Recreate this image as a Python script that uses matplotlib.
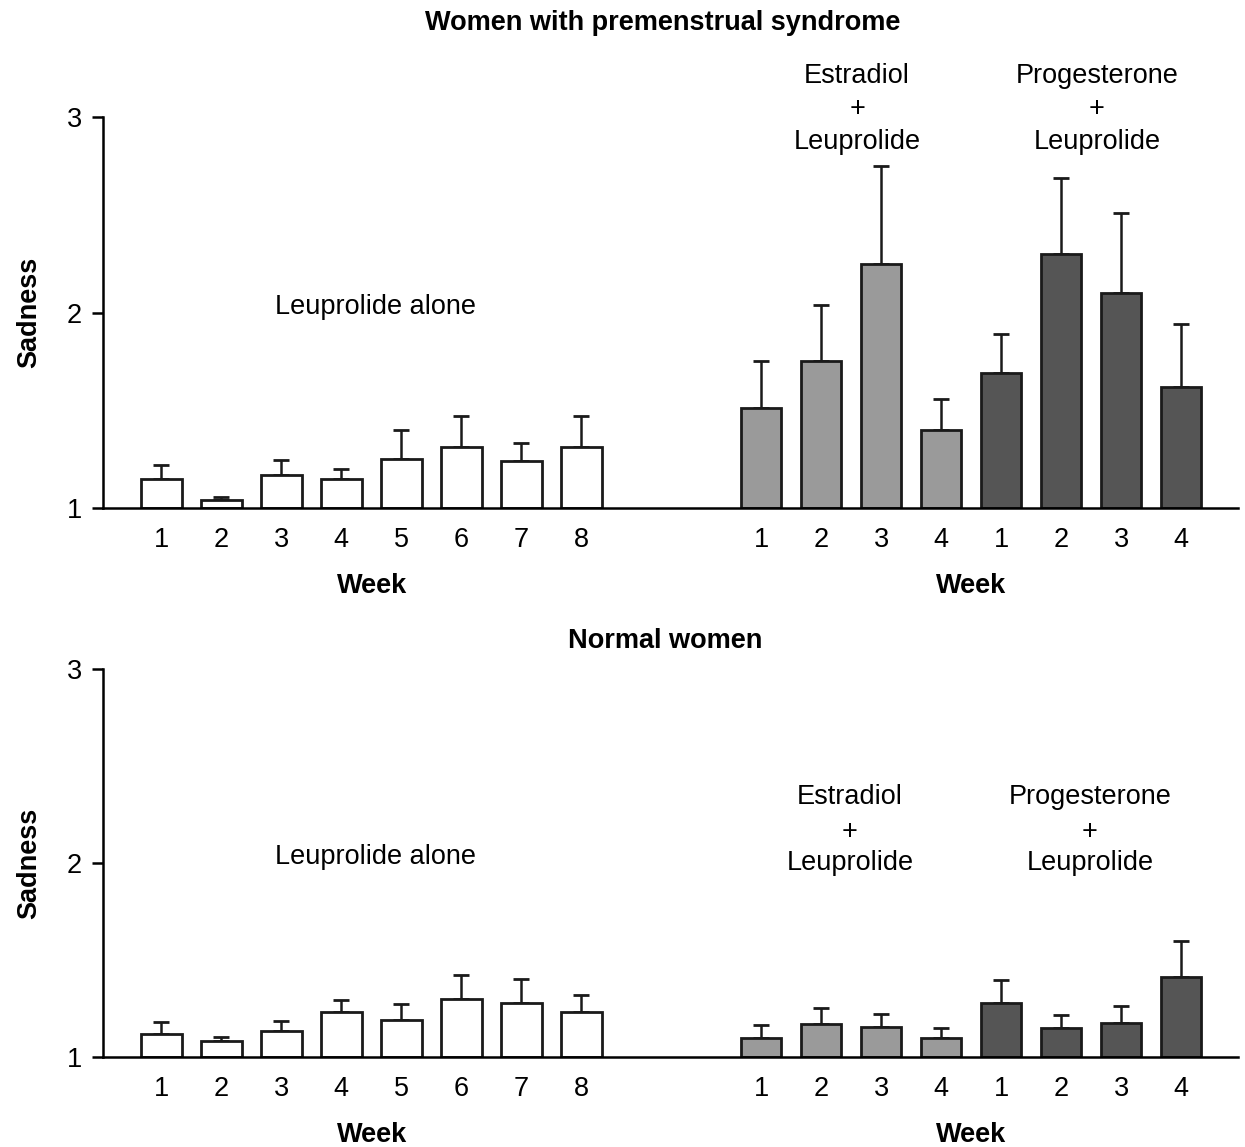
"""Sadness ratings by week: women with PMS vs normal women."""

import matplotlib.pyplot as plt
import numpy as np

plt.rcParams['font.family'] = ['Liberation Sans', 'DejaVu Sans']

# bar positions: 8 weeks leuprolide alone, gap, 4 weeks estradiol, 4 weeks progesterone
positions = np.r_[0:8, 10:18]
week_labels = [str(w) for w in range(1, 9)] + [str(w) for w in range(1, 5)] * 2

# women with premenstrual syndrome
pms_alone = [1.15, 1.04, 1.17, 1.15, 1.25, 1.31, 1.24, 1.31]
pms_alone_err = [0.07, 0.015, 0.075, 0.05, 0.15, 0.16, 0.095, 0.16]
pms_estradiol = [1.51, 1.75, 2.25, 1.40]
pms_estradiol_err = [0.24, 0.29, 0.50, 0.16]
pms_progesterone = [1.69, 2.30, 2.10, 1.62]
pms_progesterone_err = [0.20, 0.39, 0.41, 0.32]

# normal women
norm_alone = [1.12, 1.08, 1.135, 1.23, 1.19, 1.30, 1.28, 1.23]
norm_alone_err = [0.06, 0.025, 0.05, 0.065, 0.085, 0.12, 0.12, 0.09]
norm_estradiol = [1.10, 1.17, 1.155, 1.10]
norm_estradiol_err = [0.065, 0.08, 0.065, 0.05]
norm_progesterone = [1.28, 1.15, 1.175, 1.41]
norm_progesterone_err = [0.115, 0.065, 0.09, 0.19]

colors = ['white'] * 8 + ['#9a9a9a'] * 4 + ['#555555'] * 4
FS = 19.5


def draw_panel(ax, alone, alone_err, estr, estr_err, prog, prog_err,
               label_y, label_shift):
    values = np.array(alone + estr + prog)
    errs = np.array(alone_err + estr_err + prog_err)
    ax.bar(positions, values - 1, bottom=1, width=0.68, color=colors,
           edgecolor='#1a1a1a', linewidth=2.0, zorder=2)
    ax.errorbar(positions, values, yerr=[np.zeros_like(errs), errs],
                fmt='none', ecolor='#1a1a1a', elinewidth=1.8, capsize=5.5,
                capthick=2.0, zorder=1)
    ax.set_xlim(-0.97, 17.95)
    ax.set_ylim(1, 3)
    ax.set_yticks([1, 2, 3])
    ax.set_xticks(positions)
    ax.set_xticklabels(week_labels)
    ax.tick_params(axis='x', length=0, pad=14, labelsize=FS)
    ax.tick_params(axis='y', length=8, width=1.8, pad=7, labelsize=FS)
    for side in ['top', 'right']:
        ax.spines[side].set_visible(False)
    ax.spines['left'].set_linewidth(1.8)
    ax.spines['bottom'].set_linewidth(1.8)
    ax.set_ylabel('Sadness', fontsize=FS, fontweight='bold', labelpad=18)

    ax.text(3.58, 2.03, 'Leuprolide alone', ha='center', va='center',
            fontsize=FS)
    for xc, name in [(11.5 + label_shift, 'Estradiol'),
                     (15.5 + label_shift, 'Progesterone')]:
        for yy, line in zip(label_y, [name, '+', 'Leuprolide']):
            ax.text(xc, yy, line, ha='center', va='center', fontsize=FS,
                    clip_on=False)
    for xc in [3.52, 13.5]:
        ax.text(xc, -0.2, 'Week', ha='center', va='center', fontsize=FS,
                fontweight='bold', transform=ax.get_xaxis_transform())


fig = plt.figure(figsize=(12.45, 11.47), dpi=100)
ax_top = fig.add_axes([0.0827, 0.5571, 0.9117, 0.3409])
ax_bot = fig.add_axes([0.0827, 0.0785, 0.9117, 0.3382])

draw_panel(ax_top, pms_alone, pms_alone_err, pms_estradiol, pms_estradiol_err,
           pms_progesterone, pms_progesterone_err, (3.21, 3.04, 2.87), 0.1)
draw_panel(ax_bot, norm_alone, norm_alone_err, norm_estradiol,
           norm_estradiol_err, norm_progesterone, norm_progesterone_err,
           (2.34, 2.16, 2.0), -0.02)

fig.text(663 / 1245, 1 - 23 / 1147, 'Women with premenstrual syndrome',
         ha='center', va='center', fontsize=FS, fontweight='bold')
fig.text(665 / 1245, 1 - 641 / 1147, 'Normal women',
         ha='center', va='center', fontsize=FS, fontweight='bold')

fig.savefig('out.png', dpi=100)
